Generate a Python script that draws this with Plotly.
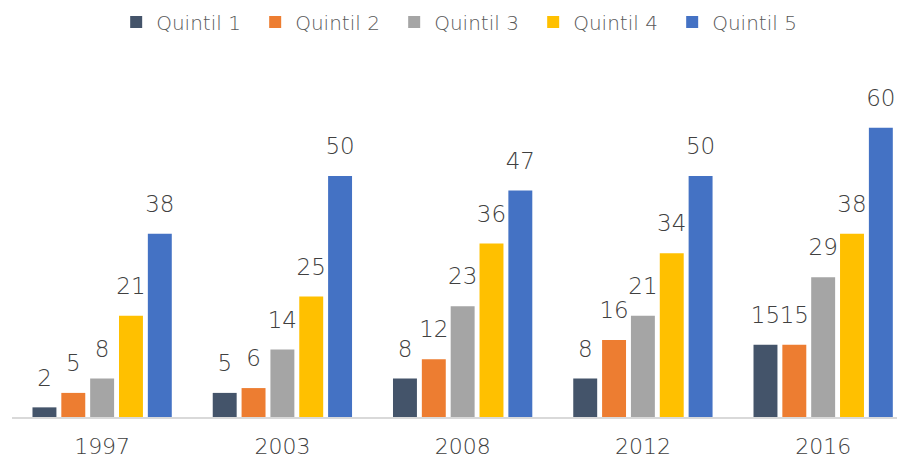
import plotly.graph_objects as go

# data
years = ["1997", "2003", "2008", "2012", "2016"]
quintil_1 = [2, 5, 8, 8, 15]
quintil_2 = [5, 6, 12, 16, 15]
quintil_3 = [8, 14, 23, 21, 29]
quintil_4 = [21, 25, 36, 34, 38]
quintil_5 = [38, 50, 47, 50, 60]

series_names = ["Quintil 1", "Quintil 2", "Quintil 3", "Quintil 4", "Quintil 5"]
series_values = [quintil_1, quintil_2, quintil_3, quintil_4, quintil_5]
colors = ["#44546A", "#ED7D31", "#A5A5A5", "#FFC000", "#4472C4"]

font_family = "DejaVu Sans"
text_color = "#595959"
label_color = "#404040"

fig = go.Figure()
for name, vals, col in zip(series_names, series_values, colors):
    fig.add_trace(go.Bar(
        x=years, y=vals, name=name,
        marker=dict(color=col, line=dict(width=0)),
        hoverinfo="x+y+name",
    ))

# value labels: invisible markers so the text sits a bit above the bar tops
for name, vals in zip(series_names, series_values):
    fig.add_trace(go.Scatter(
        x=years, y=vals, name=name, showlegend=False,
        mode="markers+text",
        marker=dict(size=24, color="rgba(0,0,0,0)"),
        text=[str(v) for v in vals],
        textposition="top center",
        textfont=dict(size=23, color=label_color, family=font_family, weight=200),
        cliponaxis=False, hoverinfo="skip",
    ))

# page body has an 8px margin, so the figure is a bit smaller than the window
fig.update_layout(
    width=897, height=453,
    barmode="group",
    bargap=0.2, bargroupgap=0.17,
    scattermode="group", scattergap=0.2,
    plot_bgcolor="white", paper_bgcolor="white",
    margin=dict(l=4, r=0, t=62, b=44, autoexpand=False),
    font=dict(family=font_family, color=text_color, weight=200),
    legend=dict(
        orientation="h", x=0.508, xref="container", xanchor="center",
        y=0.969, yref="container", yanchor="middle",
        font=dict(size=20, color=text_color, family=font_family, weight=200),
        entrywidth=94, entrywidthmode="pixels",
        itemclick=False, traceorder="normal",
    ),
    xaxis=dict(
        range=[-0.5, 4.454],
        showline=True, linecolor="#D9D9D9", linewidth=2,
        ticks="", ticklabelstandoff=9,
        tickfont=dict(size=22, color=label_color, family=font_family, weight=200),
        showgrid=False,
    ),
    yaxis=dict(range=[0, 72], visible=False, showgrid=False),
)

fig.write_html("out.html")
